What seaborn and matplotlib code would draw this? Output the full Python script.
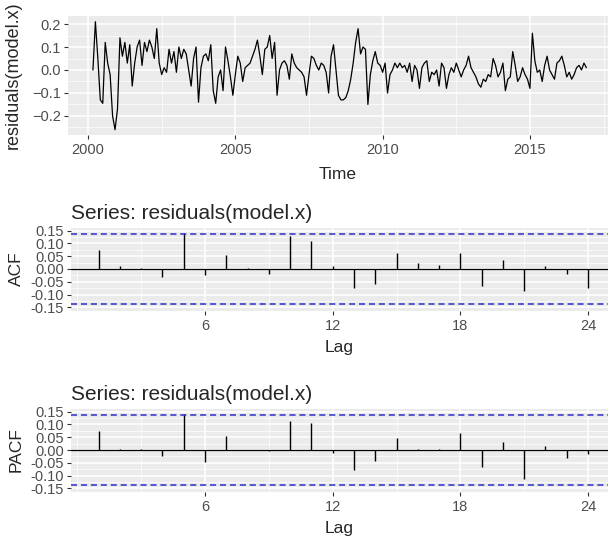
import matplotlib.pyplot as plt
import numpy as np
import pandas as pd
import seaborn as sns
from matplotlib.ticker import MultipleLocator

# monthly residuals, starting March 2000
resid_2000 = [0.00, 0.21, 0.05, -0.13, -0.145, 0.12, 0.03, -0.02, -0.20, -0.26]
resid_2001 = [-0.17, 0.14, 0.06, 0.12, 0.03, 0.11, -0.07, 0.03, 0.10, 0.13, 0.02, 0.12]
resid_2002 = [0.08, 0.13, 0.10, 0.05, 0.18, 0.03, -0.02, 0.01, -0.01, 0.09, 0.03, 0.08]
resid_2003 = [-0.01, 0.10, 0.05, 0.09, 0.07, 0.00, -0.07, 0.05, 0.10, -0.14, 0.01, 0.06]
resid_2004 = [0.07, 0.04, 0.11, -0.09, -0.145, -0.03, 0.00, -0.09, 0.10, 0.04, -0.03, -0.11]
resid_2005 = [-0.02, 0.06, 0.03, -0.05, 0.01, 0.02, 0.03, 0.06, 0.09, 0.13, 0.06, -0.02]
resid_2006 = [0.09, 0.10, 0.15, 0.05, 0.12, -0.11, 0.00, 0.03, 0.04, 0.02, -0.04, 0.07]
resid_2007 = [0.03, 0.01, 0.00, -0.01, -0.03, -0.11, -0.02, 0.06, 0.05, 0.02, 0.00, 0.03]
resid_2008 = [0.02, -0.01, -0.10, 0.06, 0.11, 0.00, -0.11, -0.13, -0.13, -0.12, -0.09, -0.04]
resid_2009 = [0.03, 0.12, 0.18, 0.07, 0.10, 0.09, -0.15, -0.02, 0.04, 0.08, 0.03, 0.02]
resid_2010 = [-0.01, 0.03, -0.10, -0.02, 0.00, 0.03, 0.01, 0.03, 0.01, 0.02, -0.01, 0.03]
resid_2011 = [-0.05, 0.02, 0.00, -0.08, 0.01, 0.03, 0.04, -0.05, -0.01, -0.02, 0.00, -0.07]
resid_2012 = [0.03, 0.01, -0.08, -0.02, 0.01, -0.01, 0.03, 0.00, -0.03, 0.00, 0.02, 0.06]
resid_2013 = [0.01, -0.01, -0.03, -0.06, -0.075, -0.04, -0.05, -0.02, -0.03, 0.05, 0.02, -0.03]
resid_2014 = [-0.01, 0.03, -0.09, -0.04, -0.03, 0.08, 0.02, -0.05, -0.03, 0.01, -0.02, -0.04]
resid_2015 = [-0.08, 0.16, 0.04, -0.01, 0.00, -0.05, 0.02, 0.06, 0.00, -0.02, -0.04, 0.03]
resid_2016 = [0.04, 0.06, 0.02, -0.03, -0.01, -0.04, -0.02, 0.01, 0.02, 0.00, 0.03, 0.01]

lags = list(range(1, 25))
acf_values = [0.075, 0.010, 0.005, -0.030, 0.140, -0.025, 0.055, 0.005, -0.020, 0.128,
              0.108, 0.010, -0.075, -0.058, 0.062, 0.025, 0.015, 0.062, -0.068, 0.035,
              -0.085, 0.010, -0.020, -0.075]
pacf_values = [0.074, 0.005, 0.004, -0.025, 0.142, -0.045, 0.055, 0.000, -0.005, 0.112,
               0.104, -0.012, -0.078, -0.043, 0.045, 0.005, 0.005, 0.066, -0.065, 0.033,
               -0.112, 0.015, -0.030, -0.015]

resid = (resid_2000 + resid_2001 + resid_2002 + resid_2003 + resid_2004 + resid_2005
         + resid_2006 + resid_2007 + resid_2008 + resid_2009 + resid_2010 + resid_2011
         + resid_2012 + resid_2013 + resid_2014 + resid_2015 + resid_2016)
start = 2000 + 2 / 12
df = pd.DataFrame({"Time": start + np.arange(len(resid)) / 12, "resid": resid})
ci = 1.96 / np.sqrt(len(resid))

sns.set_theme(style="darkgrid", rc={
    "axes.facecolor": "#EBEBEB",
    "grid.color": "white",
    "xtick.bottom": True,
    "ytick.left": True,
    "xtick.color": "#333333",
    "ytick.color": "#333333",
    "xtick.labelcolor": "#4D4D4D",
    "ytick.labelcolor": "#4D4D4D",
    "xtick.major.size": 3,
    "ytick.major.size": 3,
    "xtick.major.width": 0.8,
    "ytick.major.width": 0.8,
    "xtick.major.pad": 3,
    "ytick.major.pad": 2,
})
plt.rcParams["font.family"] = ["Liberation Sans", "DejaVu Sans"]

W, H = 608, 540
fig = plt.figure(figsize=(W / 100, H / 100), dpi=100)


def box(left, top, bottom, right=608):
    return [left / W, 1 - bottom / H, (right - left) / W, (bottom - top) / H]


def style(ax):
    for s in ax.spines.values():
        s.set_visible(False)
    ax.grid(which="major", color="white", lw=1.1)
    ax.grid(which="minor", color="white", lw=0.5)
    ax.tick_params(which="minor", length=0)
    ax.tick_params(labelsize=10.5)


ax1 = fig.add_axes(box(68, 16, 135))
sns.lineplot(data=df, x="Time", y="resid", color="black", lw=0.9, ax=ax1)
ax1.set_xlim(1999.32, 2017.65)
ax1.set_ylim(-0.283, 0.235)
ax1.set_xticks([2000, 2005, 2010, 2015])
ax1.set_yticks([-0.2, -0.1, 0.0, 0.1, 0.2])
ax1.xaxis.set_minor_locator(MultipleLocator(2.5))
ax1.yaxis.set_minor_locator(MultipleLocator(0.05))
style(ax1)
ax1.set_xlabel("Time", fontsize=12.5)
ax1.set_ylabel("residuals(model.x)", fontsize=13)
ax1.xaxis.set_label_coords(0.5, -0.27)
ax1.yaxis.set_label_coords((22 - 68) / 540, 0.5)


def corr_panel(top, bottom, values, ylabel):
    ax = fig.add_axes(box(71, top, bottom))
    ax.vlines(lags, 0, values, color="black", lw=1.0)
    ax.axhline(0, color="black", lw=0.9)
    for c in (ci, -ci):
        ax.axhline(c, color="#2F2FC8", lw=1.1, ls=(0, (4, 2.5)))
    ax.set_xlim(-0.3, 24.94)
    ax.set_ylim(-0.162, 0.162)
    ax.set_xticks([6, 12, 18, 24])
    ax.set_yticks([-0.15, -0.10, -0.05, 0.0, 0.05, 0.10, 0.15])
    ax.set_yticklabels([f"{v:.2f}" for v in ax.get_yticks()])
    ax.xaxis.set_minor_locator(MultipleLocator(3))
    ax.yaxis.set_minor_locator(MultipleLocator(0.025))
    style(ax)
    ax.set_title("Series: residuals(model.x)", loc="left", fontsize=15, pad=6)
    ax.set_xlabel("Lag", fontsize=12.5)
    ax.set_ylabel(ylabel, fontsize=12.5)
    ax.xaxis.set_label_coords(0.5, -0.36)
    ax.yaxis.set_label_coords((24 - 71) / 537, 0.5)
    return ax


corr_panel(227.5, 310.5, acf_values, "ACF")
corr_panel(408.5, 491.5, pacf_values, "PACF")

fig.savefig("out.png", dpi=100)
